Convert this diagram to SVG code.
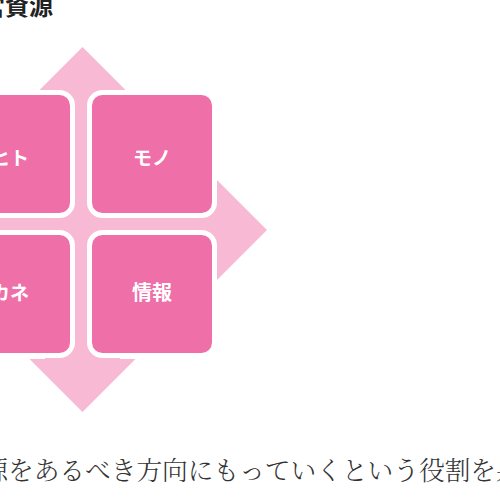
<svg xmlns="http://www.w3.org/2000/svg" width="500" height="500" viewBox="0 0 500 500">
<style>
.tile{fill:#EF6FA8;stroke:#FFFFFF;stroke-width:5}
.arrow{fill:#F7B9D3}
.lbl{font-family:"Noto Sans CJK JP","Noto Sans",sans-serif;font-weight:bold;fill:#FFFFFF;text-anchor:middle}
.title{font-family:"Noto Sans CJK JP","Noto Sans",sans-serif;font-weight:bold;fill:#222222}
.body{font-family:"Noto Serif CJK JP","Noto Sans CJK JP",serif;font-weight:300;fill:#333333}
</style>
<rect width="500" height="500" fill="#FFFFFF"/>
<text id="title" class="title" x="53" y="15" font-size="24" text-anchor="end">経営資源</text>
<g id="connectors">
<rect class="arrow" x="45" y="99" width="75" height="261"/>
<rect class="arrow" x="-50" y="185" width="268" height="90"/>
<polygon class="arrow" points="82.5,47 135.5,100 29.5,100"/>
<polygon class="arrow" points="217,180 267,230 217,280"/>
<polygon class="arrow" points="29.5,359 135.5,359 82.5,412"/>
<polygon class="arrow" points="-50,180 -100,230 -50,280"/>
</g>
<g id="node-hito">
<rect class="tile" x="-52.5" y="92.5" width="125" height="123" rx="13"/>
<text class="lbl" x="10" y="165" font-size="19">ヒト</text>
</g>
<g id="node-mono">
<rect class="tile" x="89.5" y="92.5" width="125" height="123" rx="13"/>
<text class="lbl" x="152" y="165" font-size="19">モノ</text>
</g>
<g id="node-kane">
<rect class="tile" x="-52.5" y="232.5" width="125" height="123" rx="13"/>
<text class="lbl" x="10" y="300" font-size="19">カネ</text>
</g>
<g id="node-joho">
<rect class="tile" x="89.5" y="232.5" width="125" height="123" rx="13"/>
<text class="lbl" x="152" y="300" font-size="20">情報</text>
</g>
<text id="body" class="body" x="-43.4" y="480" font-size="25.7">資源をあるべき方向にもっていくという役割を果</text>
</svg>
